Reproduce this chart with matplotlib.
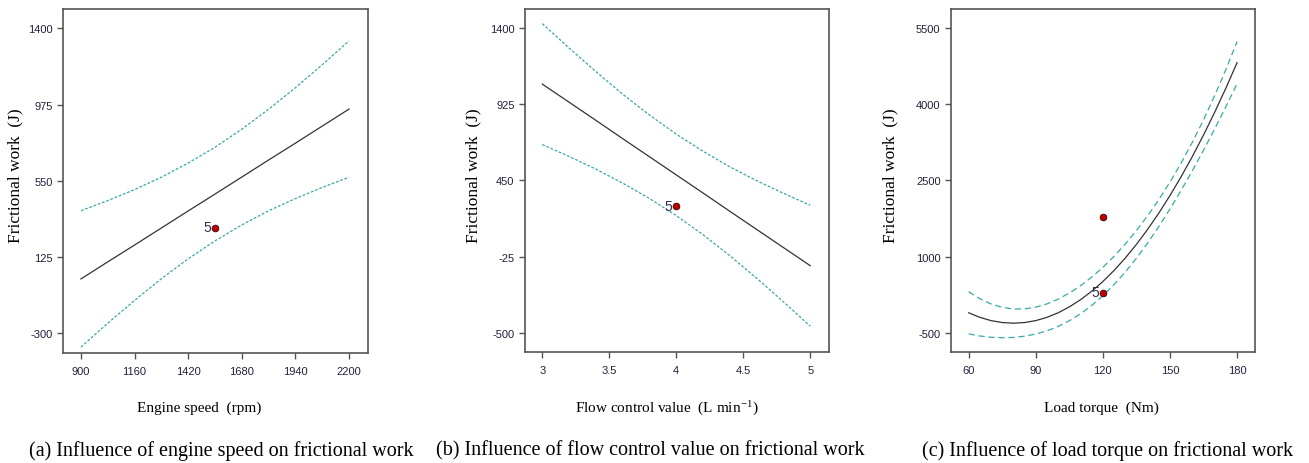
import matplotlib
matplotlib.use("Agg")
import matplotlib.pyplot as plt

plt.rcParams['mathtext.fontset'] = 'stix'
plt.rcParams['axes.unicode_minus'] = False

# (a) engine speed
speed = [900, 1030, 1160, 1290, 1420, 1550, 1680, 1810, 1940, 2070, 2200]
work_a = [3, 98, 192, 287, 382, 476, 571, 666, 760, 855, 950]
upper_a = [383, 440, 501, 570, 649, 737, 838, 949, 1069, 1197, 1330]
lower_a = [-377, -244, -117, 4, 115, 215, 304, 383, 451, 513, 570]
pts_a_x = [1550]
pts_a_y = [287]

# (b) flow control value
flow = [3.0, 3.2, 3.4, 3.6, 3.8, 4.0, 4.2, 4.4, 4.6, 4.8, 5.0]
work_b = [1050, 937, 824, 710, 597, 484, 371, 257, 144, 31, -82]
upper_b = [1427, 1275, 1128, 987, 857, 738, 631, 534, 448, 369, 295]
lower_b = [673, 599, 520, 433, 337, 230, 111, -20, -160, -307, -459]
pts_b_x = [4]
pts_b_y = [288]

# (c) load torque
torque = [60, 65, 70, 75, 80, 85, 90, 95, 100, 105, 110, 115, 120,
          125, 130, 135, 140, 145, 150, 155, 160, 165, 170, 175, 180]
work_c = [-107, -197, -261, -299, -312, -299, -261, -197, -107, 9, 150, 316, 509,
          727, 970, 1240, 1535, 1855, 2202, 2574, 2971, 3394, 3843, 4318, 4818]
upper_c = [308, 170, 67, 0, -32, -30, 4, 68, 162, 282, 426, 595, 789,
           1006, 1246, 1513, 1804, 2120, 2467, 2843, 3251, 3693, 4171, 4685, 5233]
lower_c = [-522, -564, -589, -598, -592, -568, -526, -462, -376, -264, -126, 37, 229,
           448, 694, 967, 1266, 1590, 1937, 2305, 2691, 3095, 3515, 3951, 4403]
pts_c_x = [120, 120]
pts_c_y = [1772, 290]

W, H = 1309, 464
fig = plt.figure(figsize=(W / 100, H / 100), dpi=100)

teal = '#3aa8a8'
tick_col = '#202040'


def make_ax(l, r, t, b):
    ax = fig.add_axes([l / W, 1 - b / H, (r - l) / W, (b - t) / H])
    for s in ax.spines.values():
        s.set_color('#555555')
        s.set_linewidth(1.2)
    ax.tick_params(direction='out', length=4.5, width=1, color='#555555',
                   labelsize=8, labelcolor=tick_col, top=False, right=False)
    ax.tick_params(axis='y', pad=3)
    ax.tick_params(axis='x', pad=5)
    return ax


def draw(ax, x, c, up, lo, px, py, lab_idx, dash):
    ax.plot(x, c, color='#333333', lw=0.9)
    ax.plot(x, up, color=teal, lw=0.9, dashes=dash)
    ax.plot(x, lo, color=teal, lw=0.9, dashes=dash)
    ax.plot(px, py, 'o', ms=4.8, mfc='#c00000', mec='#3a0000', mew=0.6)
    ax.annotate('5', (px[lab_idx], py[lab_idx]), xytext=(-3, 0.5),
                textcoords='offset points', ha='right', va='center',
                fontsize=10, color='#303050', family='Liberation Sans')


ax1 = make_ax(63, 368, 10, 354)
draw(ax1, speed, work_a, upper_a, lower_a, pts_a_x, pts_a_y, 0, (2.2, 1.4))
ax1.set_xlim(813, 2292)
ax1.set_ylim(-410, 1508)
ax1.set_xticks([900, 1160, 1420, 1680, 1940, 2200])
ax1.set_yticks([-300, 125, 550, 975, 1400])

ax2 = make_ax(525, 829, 10, 353)
draw(ax2, flow, work_b, upper_b, lower_b, pts_b_x, pts_b_y, 0, (2.2, 1.4))
ax2.set_xlim(2.871, 5.14)
ax2.set_ylim(-620, 1518)
ax2.set_xticks([3, 3.5, 4, 4.5, 5])
ax2.set_xticklabels(['3', '3.5', '4', '4.5', '5'])
ax2.set_yticks([-500, -25, 450, 925, 1400])

ax3 = make_ax(951, 1255, 10, 353)
draw(ax3, torque, work_c, upper_c, lower_c, pts_c_x, pts_c_y, 1, (5, 3))
ax3.set_xlim(52.1, 188)
ax3.set_ylim(-879, 5874)
ax3.set_xticks([60, 90, 120, 150, 180])
ax3.set_yticks([-500, 1000, 2500, 4000, 5500])

for ax in (ax1, ax2, ax3):
    for lab in ax.get_xticklabels() + ax.get_yticklabels():
        lab.set_family('Liberation Sans')

serif = 'Liberation Serif'
# y labels
for xpx in (15, 473, 890):
    fig.text(xpx / W, 1 - 176 / H, 'Frictional work  (J)', rotation=90,
             ha='center', va='center', fontsize=12.5, family=serif)
# x labels
fig.text(199 / W, 1 - 408 / H, 'Engine speed  (rpm)', ha='center', va='center',
         fontsize=11, family=serif)
fig.text(667 / W, 1 - 408 / H, r'Flow control value  (L min$^{\mathregular{-1}}$)',
         ha='center', va='center', fontsize=11, family=serif)
fig.text(1101 / W, 1 - 408 / H, 'Load torque  (Nm)', ha='center', va='center',
         fontsize=11, family=serif)
# captions
caps = ['(a) Influence of engine speed on frictional work',
        '(b) Influence of flow control value on frictional work',
        '(c) Influence of load torque on frictional work']
for xpx, cap in zip((221, 650, 1107), caps):
    fig.text(xpx / W, 1 - 451 / H, cap, ha='center', va='center',
             fontsize=14.5, family=serif)

fig.savefig('out.png', dpi=100)
